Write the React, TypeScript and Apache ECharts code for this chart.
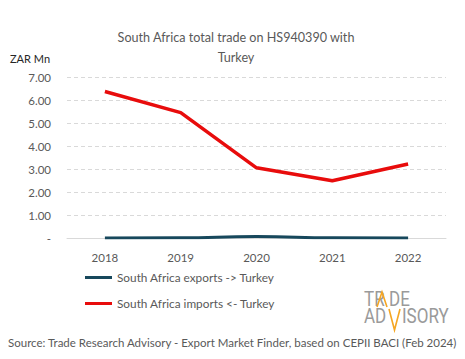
import React, { useEffect, useRef } from "react";
import * as echarts from "echarts";

const years = ["2018", "2019", "2020", "2021", "2022"];
const exportsToTurkey = [0.0, 0.01, 0.06, 0.01, 0.0];
const importsFromTurkey = [6.37, 5.45, 3.05, 2.49, 3.22];
const seriesNames = ["South Africa exports -> Turkey", "South Africa imports <- Turkey"];
const titleText = "South Africa total trade on HS940390 with\nTurkey";
const unitLabel = "ZAR Mn";
const sourceText = "Source: Trade Research Advisory - Export Market Finder, based on CEPII BACI (Feb 2024)";

const FONT = "Lato, 'Noto Sans', sans-serif";
const GREY = "#595959";
const ORANGE = "#f5a623";
const LOGO_GREY = "#9a9a9a";

export default function App() {
  const ref = useRef<HTMLDivElement>(null);
  useEffect(() => {
    if (!ref.current) return;
    const chart = echarts.init(ref.current, null, { renderer: "svg" });
    const logoFont = "normal 20px Roboto, 'Liberation Sans', sans-serif";
    chart.setOption({
      animation: false,
      backgroundColor: "#ffffff",
      title: {
        text: titleText,
        left: 231,
        textAlign: "center",
        top: 22,
        textStyle: { fontFamily: FONT, fontSize: 12.6, fontWeight: "normal", color: GREY, lineHeight: 20 },
      },
      grid: { left: 67, right: 19, top: 77, bottom: 121, containLabel: false },
      legend: {
        orient: "vertical",
        left: 80,
        top: 265,
        itemGap: 11,
        itemWidth: 27,
        itemHeight: 3,
        icon: "rect",
        data: seriesNames,
        textStyle: { fontFamily: FONT, fontSize: 11.8, color: GREY, lineHeight: 15 },
      },
      xAxis: {
        type: "category",
        data: years,
        boundaryGap: true,
        axisLine: { lineStyle: { color: "#d9d9d9", width: 1 } },
        axisTick: { show: false },
        axisLabel: { fontFamily: FONT, fontSize: 11.5, color: GREY, margin: 13 },
      },
      yAxis: {
        type: "value",
        min: 0,
        max: 7,
        interval: 1,
        axisLine: { show: false },
        axisTick: { show: false },
        splitLine: { lineStyle: { color: "#d9d9d9", type: [4, 3], width: 1 } },
        axisLabel: {
          fontFamily: FONT,
          fontSize: 11.5,
          color: GREY,
          margin: 16,
          formatter: (v: number) => (v === 0 ? "-" : v.toFixed(2)),
        },
      },
      series: [
        {
          name: seriesNames[0],
          type: "line",
          data: exportsToTurkey,
          symbol: "none",
          smooth: true,
          lineStyle: { color: "#17485c", width: 3 },
          itemStyle: { color: "#17485c" },
          z: 3,
        },
        {
          name: seriesNames[1],
          type: "line",
          data: importsFromTurkey,
          symbol: "none",
          lineStyle: { color: "#e80c0c", width: 3.5 },
          itemStyle: { color: "#e80c0c" },
          z: 2,
        },
      ],
      graphic: [
        {
          type: "text",
          left: 10,
          top: 53,
          style: { text: unitLabel, fontFamily: FONT, fontSize: 11, fill: "#262626" },
        },
        {
          type: "text",
          x: 8,
          y: 336,
          style: { text: sourceText, fontFamily: FONT, fontSize: 11.5, fill: GREY },
        },
        {
          type: "group",
          x: 364,
          y: 290,
          children: [
            { type: "text", x: 0, y: 0, scaleX: 0.85, style: { text: "TR", font: logoFont, fill: LOGO_GREY } },
            {
              type: "polyline",
              shape: { points: [[13, 17], [18, 2], [23, 17]] },
              style: { stroke: ORANGE, lineWidth: 1.6, fill: "none" },
            },
            { type: "text", x: 25, y: 0, scaleX: 0.85, style: { text: "DE", font: logoFont, fill: LOGO_GREY } },
            { type: "text", x: 0, y: 17, scaleX: 0.85, style: { text: "AD", font: logoFont, fill: LOGO_GREY } },
            {
              type: "polyline",
              shape: { points: [[25, 19], [30.5, 40], [36, 19]] },
              style: { stroke: ORANGE, lineWidth: 1.6, fill: "none" },
            },
            { type: "text", x: 38, y: 17, scaleX: 0.85, style: { text: "ISORY", font: logoFont, fill: LOGO_GREY } },
          ],
        },
      ],
    });
    return () => chart.dispose();
  }, []);
  return <div ref={ref} style={{ width: 465, height: 359, margin: -8 }} />;
}
